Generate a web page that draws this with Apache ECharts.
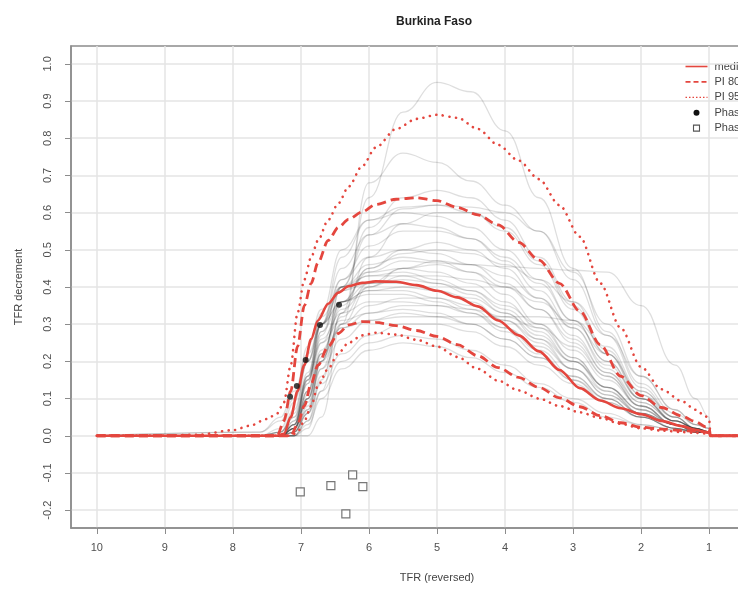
<!DOCTYPE html>
<html>
<head>
<meta charset="utf-8">
<script src="https://cdn.jsdelivr.net/npm/echarts@6/dist/echarts.min.js"></script>
<style>
html, body { margin: 0; padding: 0; background: #fff; overflow: hidden; }
#chart { width: 810px; height: 593px; }
</style>
</head>
<body>
<div id="chart"></div>
<script>
// Labels
const chartTitle = 'Burkina Faso';
const xTitle = 'TFR (reversed)';
const yTitle = 'TFR decrement';
const legendNames = ['median', 'PI 80', 'PI 95', 'Phase II data', 'Phase III data'];

// Tick values
const xTickValues = [10, 9, 8, 7, 6, 5, 4, 3, 2, 1];
const yTickValues = [-0.2, -0.1, 0.0, 0.1, 0.2, 0.3, 0.4, 0.5, 0.6, 0.7, 0.8, 0.9, 1.0];

// TFR grid for the summary curves (median and probability intervals)
const tfrGrid = [10, 9, 8.5, 8.0, 7.75, 7.5, 7.35, 7.25, 7.15, 7.05, 6.95, 6.85, 6.75, 6.6, 6.45, 6.3, 6.1, 5.9, 5.6, 5.3, 5.0, 4.7, 4.4, 4.1, 3.8, 3.5, 3.2, 2.9, 2.6, 2.3, 2.0, 1.7, 1.4, 1.2, 1.05, 1.0, 0.98, 0];
const medianDecr = [0, 0, 0, 0, 0, 0, 0, 0.005, 0.05, 0.12, 0.19, 0.26, 0.31, 0.355, 0.385, 0.402, 0.411, 0.415, 0.414, 0.405, 0.39, 0.372, 0.348, 0.31, 0.27, 0.227, 0.177, 0.128, 0.095, 0.074, 0.058, 0.04, 0.026, 0.016, 0.01, 0.008, 0, 0];
const upper80 = [0, 0, 0, 0, 0, 0, 0, 0.04, 0.12, 0.24, 0.35, 0.41, 0.465, 0.525, 0.56, 0.582, 0.602, 0.622, 0.636, 0.64, 0.632, 0.614, 0.594, 0.567, 0.52, 0.472, 0.41, 0.335, 0.245, 0.16, 0.108, 0.076, 0.053, 0.038, 0.024, 0.02, 0, 0];
const lower80 = [0, 0, 0, 0, 0, 0, 0, 0, 0, 0.03, 0.08, 0.14, 0.19, 0.24, 0.275, 0.298, 0.307, 0.305, 0.296, 0.283, 0.267, 0.245, 0.215, 0.183, 0.157, 0.13, 0.102, 0.078, 0.054, 0.035, 0.023, 0.018, 0.014, 0.012, 0.01, 0.008, 0, 0];
const upper95 = [0, 0, 0.003, 0.015, 0.027, 0.045, 0.06, 0.09, 0.19, 0.33, 0.42, 0.48, 0.525, 0.58, 0.625, 0.67, 0.725, 0.775, 0.825, 0.852, 0.863, 0.855, 0.825, 0.782, 0.74, 0.69, 0.62, 0.535, 0.41, 0.29, 0.185, 0.125, 0.093, 0.07, 0.052, 0.045, 0, 0];
const lower95 = [0, 0, 0, 0, 0, 0, 0, 0, 0, 0.01, 0.04, 0.08, 0.135, 0.18, 0.222, 0.25, 0.27, 0.277, 0.272, 0.258, 0.24, 0.212, 0.18, 0.148, 0.122, 0.1, 0.08, 0.063, 0.048, 0.032, 0.02, 0.014, 0.01, 0.008, 0.006, 0.005, 0, 0];

// TFR grid for the sampled posterior curves
const sampleTfr = [7.6, 7.3, 7.1, 6.9, 6.7, 6.4, 6.0, 5.5, 5.0, 4.5, 4.0, 3.5, 3.0, 2.5, 2.0, 1.5, 1.2, 1.0];
const sampleCurves = [
  [0, 0, 0, 0.02, 0.12, 0.33, 0.64, 0.87, 0.95, 0.925, 0.82, 0.64, 0.45, 0.28, 0.14, 0.06, 0.03, 0.02],
  [0, 0, 0, 0, 0.05, 0.3, 0.68, 0.76, 0.735, 0.685, 0.62, 0.55, 0.44, 0.3, 0.16, 0.07, 0.03, 0.02],
  [0, 0, 0.02, 0.1, 0.22, 0.36, 0.44, 0.47, 0.465, 0.46, 0.455, 0.45, 0.445, 0.44, 0.35, 0.19, 0.1, 0.05],
  [0, 0, 0.03, 0.14, 0.3, 0.48, 0.58, 0.615, 0.62, 0.615, 0.6, 0.55, 0.42, 0.27, 0.13, 0.05, 0.02, 0.01],
  [0, 0, 0, 0.04, 0.15, 0.33, 0.48, 0.57, 0.6, 0.6, 0.56, 0.47, 0.35, 0.22, 0.1, 0.04, 0.02, 0.01],
  [0, 0, 0.02, 0.12, 0.27, 0.42, 0.51, 0.55, 0.55, 0.53, 0.48, 0.41, 0.31, 0.2, 0.1, 0.04, 0.02, 0.01],
  [0, 0, 0, 0.06, 0.2, 0.4, 0.54, 0.61, 0.62, 0.6, 0.55, 0.46, 0.34, 0.22, 0.11, 0.04, 0.02, 0.01],
  [0, 0.01, 0.05, 0.17, 0.3, 0.42, 0.48, 0.5, 0.49, 0.46, 0.41, 0.34, 0.25, 0.16, 0.08, 0.03, 0.015, 0.01],
  [0, 0, 0.03, 0.14, 0.28, 0.4, 0.46, 0.48, 0.47, 0.44, 0.38, 0.3, 0.21, 0.13, 0.06, 0.03, 0.01, 0.01],
  [0, 0, 0.04, 0.16, 0.3, 0.4, 0.44, 0.45, 0.44, 0.41, 0.36, 0.29, 0.21, 0.13, 0.07, 0.03, 0.015, 0.01],
  [0, 0.01, 0.06, 0.2, 0.32, 0.4, 0.43, 0.43, 0.41, 0.38, 0.33, 0.26, 0.18, 0.11, 0.06, 0.03, 0.01, 0.01],
  [0, 0, 0.02, 0.12, 0.25, 0.36, 0.41, 0.42, 0.41, 0.39, 0.35, 0.3, 0.23, 0.15, 0.08, 0.03, 0.015, 0.01],
  [0, 0, 0.03, 0.15, 0.28, 0.36, 0.39, 0.4, 0.39, 0.37, 0.33, 0.27, 0.2, 0.13, 0.07, 0.03, 0.01, 0.01],
  [0, 0.01, 0.07, 0.2, 0.3, 0.36, 0.38, 0.38, 0.36, 0.33, 0.28, 0.22, 0.15, 0.09, 0.05, 0.02, 0.01, 0.01],
  [0, 0, 0.04, 0.15, 0.26, 0.33, 0.36, 0.36, 0.35, 0.33, 0.29, 0.24, 0.18, 0.12, 0.06, 0.03, 0.01, 0.01],
  [0, 0, 0.02, 0.1, 0.2, 0.29, 0.33, 0.35, 0.35, 0.34, 0.32, 0.29, 0.24, 0.16, 0.08, 0.03, 0.015, 0.01],
  [0, 0, 0.02, 0.09, 0.18, 0.26, 0.31, 0.33, 0.32, 0.3, 0.26, 0.21, 0.15, 0.1, 0.05, 0.02, 0.01, 0.01],
  [0, 0, 0.01, 0.06, 0.14, 0.22, 0.27, 0.3, 0.3, 0.28, 0.24, 0.19, 0.14, 0.09, 0.05, 0.02, 0.01, 0.01],
  [0, 0, 0, 0.04, 0.12, 0.2, 0.25, 0.27, 0.26, 0.23, 0.19, 0.14, 0.1, 0.06, 0.03, 0.015, 0.01, 0.01],
  [0, 0, 0.03, 0.12, 0.22, 0.29, 0.31, 0.32, 0.32, 0.32, 0.32, 0.32, 0.31, 0.24, 0.12, 0.05, 0.02, 0.01],
  [0, 0, 0.01, 0.08, 0.2, 0.35, 0.45, 0.5, 0.52, 0.5, 0.45, 0.37, 0.27, 0.17, 0.08, 0.03, 0.015, 0.01],
  [0, 0, 0.01, 0.06, 0.16, 0.3, 0.4, 0.45, 0.47, 0.46, 0.43, 0.37, 0.29, 0.19, 0.1, 0.04, 0.02, 0.01],
  [0.01, 0.04, 0.1, 0.2, 0.3, 0.39, 0.43, 0.44, 0.42, 0.39, 0.34, 0.28, 0.2, 0.12, 0.06, 0.02, 0.01, 0.01],
  [0.01, 0.05, 0.12, 0.22, 0.3, 0.36, 0.39, 0.39, 0.37, 0.34, 0.29, 0.23, 0.16, 0.1, 0.05, 0.02, 0.01, 0.01],
  [0, 0, 0.03, 0.15, 0.3, 0.45, 0.54, 0.57, 0.56, 0.53, 0.47, 0.39, 0.29, 0.18, 0.09, 0.04, 0.02, 0.01],
  [0, 0, 0.02, 0.1, 0.22, 0.36, 0.45, 0.49, 0.5, 0.49, 0.46, 0.42, 0.36, 0.27, 0.16, 0.07, 0.03, 0.02],
  [0, 0, 0.01, 0.07, 0.18, 0.32, 0.41, 0.45, 0.46, 0.44, 0.4, 0.34, 0.26, 0.17, 0.09, 0.04, 0.02, 0.01],
  [0, 0.02, 0.09, 0.24, 0.34, 0.39, 0.41, 0.41, 0.39, 0.36, 0.31, 0.25, 0.18, 0.11, 0.06, 0.03, 0.01, 0.01],
  [0, 0, 0.02, 0.1, 0.21, 0.3, 0.35, 0.37, 0.37, 0.35, 0.31, 0.26, 0.2, 0.13, 0.07, 0.03, 0.015, 0.01],
  [0, 0, 0.03, 0.16, 0.33, 0.5, 0.58, 0.6, 0.59, 0.56, 0.5, 0.42, 0.31, 0.2, 0.1, 0.04, 0.02, 0.01],
  [0, 0, 0.02, 0.11, 0.23, 0.34, 0.4, 0.43, 0.43, 0.42, 0.4, 0.36, 0.3, 0.22, 0.12, 0.05, 0.02, 0.01],
  [0, 0.01, 0.05, 0.16, 0.25, 0.31, 0.33, 0.34, 0.33, 0.3, 0.26, 0.21, 0.16, 0.1, 0.05, 0.02, 0.01, 0.01],
  [0, 0, 0.01, 0.07, 0.2, 0.4, 0.56, 0.64, 0.66, 0.64, 0.58, 0.48, 0.36, 0.23, 0.11, 0.05, 0.02, 0.01],
  [0, 0, 0, 0.03, 0.1, 0.18, 0.23, 0.25, 0.24, 0.21, 0.17, 0.13, 0.09, 0.05, 0.03, 0.015, 0.01, 0.01]
];

// Observed decrements
const phase2Tfr = [7.16, 7.06, 6.93, 6.72, 6.44];
const phase2Decr = [0.105, 0.134, 0.204, 0.298, 0.352];
const phase3Tfr = [7.01, 6.56, 6.24, 6.09, 6.34];
const phase3Decr = [-0.151, -0.134, -0.105, -0.137, -0.210];

const RED = '#e4463e';
const FONT = '"Liberation Sans", Arial, Helvetica, sans-serif';

const pairs = (xs, ys) => xs.map((x, i) => [x, ys[i]]);

const series = [];
sampleCurves.forEach((vals) => {
  series.push({
    type: 'line',
    data: [[10, 0]].concat(pairs(sampleTfr, vals), [[0.98, 0], [0, 0]]),
    symbol: 'none',
    smooth: 0.45,
    smoothMonotone: 'x',
    silent: true,
    z: 2,
    lineStyle: { color: 'rgba(0,0,0,0.13)', width: 1.3 }
  });
});

function redLine(name, ys, style) {
  return {
    name: name,
    type: 'line',
    data: pairs(tfrGrid, ys),
    symbol: 'none',
    smooth: 0.3,
    smoothMonotone: 'x',
    silent: true,
    z: 4,
    itemStyle: { color: RED },
    lineStyle: Object.assign({ color: RED }, style)
  };
}

const solid = { width: 2.6, type: 'solid' };
const dashed = { width: 2.8, type: [9, 5] };
const dotted = { width: 2.6, type: [0.1, 6.5], cap: 'round' };

series.push(redLine('PI 95', upper95, dotted));
series.push(redLine('PI 95', lower95, dotted));
series.push(redLine('PI 80', upper80, dashed));
series.push(redLine('PI 80', lower80, dashed));
series.push(redLine('median', medianDecr, solid));

series.push({
  name: 'Phase II data',
  type: 'scatter',
  data: pairs(phase2Tfr, phase2Decr),
  symbol: 'circle',
  symbolSize: 6,
  z: 6,
  itemStyle: { color: '#111' }
});
series.push({
  name: 'Phase III data',
  type: 'scatter',
  data: pairs(phase3Tfr, phase3Decr),
  symbol: 'rect',
  symbolSize: 8,
  z: 6,
  itemStyle: { color: '#fff', borderColor: '#555', borderWidth: 1.2 }
});

// Legend key, drawn as plain graphics in the top-right corner of the plot
const legendLeft = 683;
const legendTop = 67;
const legendStep = 15.4;
const legendKeys = [
  { kind: 'line', style: { stroke: RED, lineWidth: 1.6 } },
  { kind: 'line', style: { stroke: RED, lineWidth: 1.6, lineDash: [5, 3] } },
  { kind: 'line', style: { stroke: RED, lineWidth: 1.2, lineDash: [1.5, 2] } },
  { kind: 'dot' },
  { kind: 'square' }
];
const legendChildren = [];
legendNames.forEach((name, i) => {
  const y = i * legendStep;
  const key = legendKeys[i];
  if (key.kind === 'line') {
    legendChildren.push({ type: 'line', shape: { x1: 0, y1: y, x2: 22, y2: y }, style: key.style, silent: true });
  } else if (key.kind === 'dot') {
    legendChildren.push({ type: 'circle', shape: { cx: 11, cy: y, r: 3 }, style: { fill: '#111' }, silent: true });
  } else {
    legendChildren.push({ type: 'rect', shape: { x: 8, y: y - 3, width: 6, height: 6 }, style: { fill: '#fff', stroke: '#555', lineWidth: 1.1 }, silent: true });
  }
  legendChildren.push({
    type: 'text',
    x: 29,
    y: y,
    style: { text: name, fill: '#444', font: '11px ' + FONT, textVerticalAlign: 'middle', verticalAlign: 'middle' },
    silent: true
  });
});

const axisGrey = '#8c8c8c';
const labelGrey = '#505050';

const chart = echarts.init(document.getElementById('chart'), null, { renderer: 'canvas' });
chart.setOption({
  animation: false,
  backgroundColor: '#fff',
  textStyle: { fontFamily: FONT },
  title: {
    text: chartTitle,
    left: 429,
    top: 11,
    textAlign: 'center',
    textStyle: { fontSize: 12, fontWeight: 'bold', color: '#222', fontFamily: FONT }
  },
  graphic: [{ type: 'group', left: legendLeft, top: legendTop - 6, children: legendChildren }],
  grid: {
    left: 71,
    top: 46,
    width: 732,
    height: 482,
    outerBoundsMode: 'none',
    show: true,
    borderColor: axisGrey,
    borderWidth: 1.5,
    backgroundColor: 'transparent'
  },
  xAxis: {
    type: 'value',
    inverse: true,
    min: -0.38,
    max: 10.38,
    splitNumber: 10,
    minInterval: 1,
    maxInterval: 1,
    name: xTitle,
    nameLocation: 'middle',
    nameGap: 44,
    nameTextStyle: { fontSize: 11, color: '#444', fontFamily: FONT },
    axisLine: { show: true, onZero: false, lineStyle: { color: axisGrey, width: 1.5 } },
    axisTick: { show: true, length: 6, customValues: xTickValues, lineStyle: { color: axisGrey } },
    axisLabel: {
      customValues: xTickValues,
      margin: 14,
      fontSize: 11,
      color: labelGrey,
      formatter: (v) => (Math.abs(v - Math.round(v)) < 1e-6 ? String(Math.round(v)) : '')
    },
    splitLine: { show: true, lineStyle: { color: '#e4e4e4', width: 1.5 } }
  },
  yAxis: {
    type: 'value',
    min: -0.248,
    max: 1.048,
    splitNumber: 13,
    minInterval: 0.1,
    maxInterval: 0.1,
    name: yTitle,
    nameLocation: 'middle',
    nameGap: 47,
    nameTextStyle: { fontSize: 11, color: '#444', fontFamily: FONT },
    axisLine: { show: true, onZero: false, lineStyle: { color: axisGrey, width: 1.5 } },
    axisTick: { show: true, length: 6, customValues: yTickValues, lineStyle: { color: axisGrey } },
    axisLabel: {
      customValues: yTickValues,
      rotate: 90,
      margin: 18,
      fontSize: 11,
      color: labelGrey,
      formatter: (v) => {
        const r = Math.round(v * 10);
        return Math.abs(v * 10 - r) < 1e-6 ? (r / 10).toFixed(1) : '';
      }
    },
    splitLine: { show: true, lineStyle: { color: '#e4e4e4', width: 1.5 } }
  },
  series: series
});
</script>
</body>
</html>
